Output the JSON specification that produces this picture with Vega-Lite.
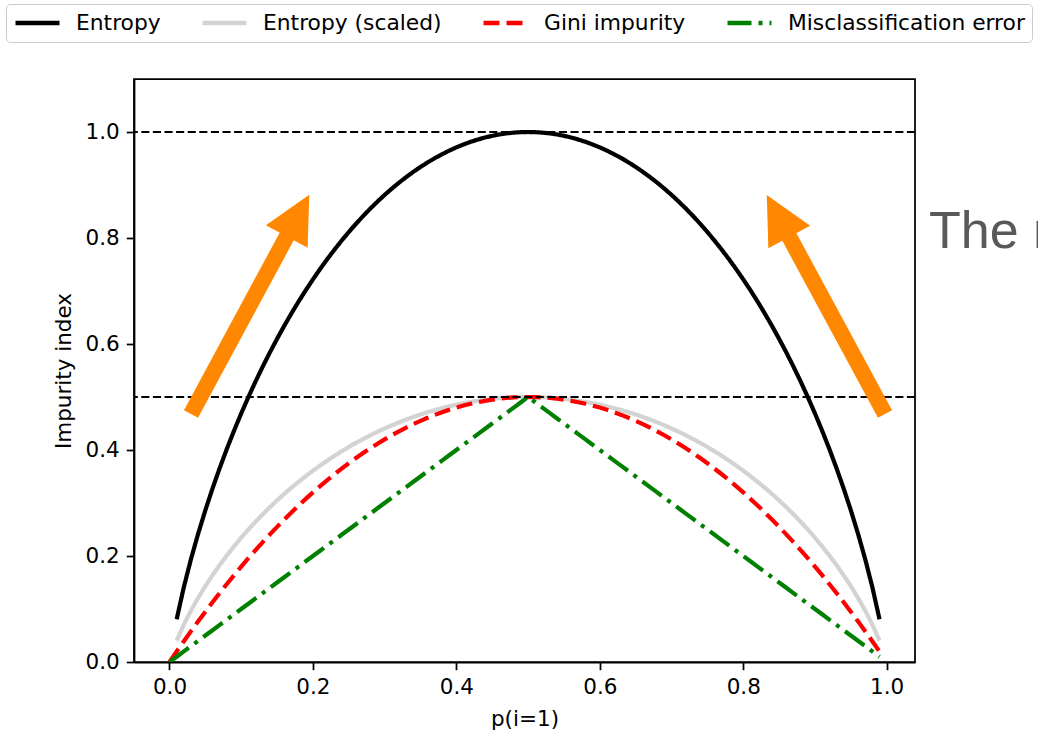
{
  "$schema": "https://vega.github.io/schema/vega-lite/v6.json",
  "width": 781,
  "height": 583,
  "autosize": {"type": "none"},
  "padding": {"left": 134, "top": 79, "right": 123, "bottom": 73},
  "background": "white",
  "config": {
    "view": {"stroke": "black", "strokeWidth": 1.75},
    "axis": {
      "domainColor": "black", "domainWidth": 1.75,
      "tickColor": "black", "tickWidth": 1.75, "tickSize": 7.7,
      "labelPadding": 7, "labelFont": "DejaVu Sans", "labelFontSize": 21.5, "labelColor": "black",
      "titleFont": "DejaVu Sans", "titleFontSize": 21.5, "titleFontWeight": "normal", "titleColor": "black",
      "grid": false, "titlePadding": 10
    },
    "legend": {
      "orient": "none", "legendX": -128, "legendY": -75, "direction": "horizontal",
      "symbolType": "stroke", "symbolSize": 1936, "symbolStrokeWidth": 4.4,
      "labelFont": "DejaVu Sans", "labelFontSize": 21.8, "labelColor": "black", "labelLimit": 500,
      "labelOffset": 14, "columnPadding": 39, "padding": 7, "clipHeight": 24,
      "fillColor": "white", "strokeColor": "#cccccc", "cornerRadius": 4
    }
  },
  "datasets": {
    "curves": [
      {"p":0.01,"e":0.0808,"es":0.0404,"g":0.0198,"m":0.01},
      {"p":0.02,"e":0.1414,"es":0.0707,"g":0.0392,"m":0.02},
      {"p":0.03,"e":0.1944,"es":0.0972,"g":0.0582,"m":0.03},
      {"p":0.04,"e":0.2423,"es":0.1211,"g":0.0768,"m":0.04},
      {"p":0.05,"e":0.2864,"es":0.1432,"g":0.095,"m":0.05},
      {"p":0.06,"e":0.3274,"es":0.1637,"g":0.1128,"m":0.06},
      {"p":0.07,"e":0.3659,"es":0.1830,"g":0.1302,"m":0.07},
      {"p":0.08,"e":0.4022,"es":0.2011,"g":0.1472,"m":0.08},
      {"p":0.09,"e":0.4365,"es":0.2182,"g":0.1638,"m":0.09},
      {"p":0.10,"e":0.4690,"es":0.2345,"g":0.18,"m":0.10},
      {"p":0.11,"e":0.4999,"es":0.2500,"g":0.1958,"m":0.11},
      {"p":0.12,"e":0.5294,"es":0.2647,"g":0.2112,"m":0.12},
      {"p":0.13,"e":0.5574,"es":0.2787,"g":0.2262,"m":0.13},
      {"p":0.14,"e":0.5842,"es":0.2921,"g":0.2408,"m":0.14},
      {"p":0.15,"e":0.6098,"es":0.3049,"g":0.255,"m":0.15},
      {"p":0.16,"e":0.6343,"es":0.3172,"g":0.2688,"m":0.16},
      {"p":0.17,"e":0.6577,"es":0.3289,"g":0.2822,"m":0.17},
      {"p":0.18,"e":0.6801,"es":0.3400,"g":0.2952,"m":0.18},
      {"p":0.19,"e":0.7015,"es":0.3507,"g":0.3078,"m":0.19},
      {"p":0.20,"e":0.7219,"es":0.3610,"g":0.32,"m":0.20},
      {"p":0.21,"e":0.7415,"es":0.3707,"g":0.3318,"m":0.21},
      {"p":0.22,"e":0.7602,"es":0.3801,"g":0.3432,"m":0.22},
      {"p":0.23,"e":0.7780,"es":0.3890,"g":0.3542,"m":0.23},
      {"p":0.24,"e":0.7950,"es":0.3975,"g":0.3648,"m":0.24},
      {"p":0.25,"e":0.8113,"es":0.4056,"g":0.375,"m":0.25},
      {"p":0.26,"e":0.8267,"es":0.4134,"g":0.3848,"m":0.26},
      {"p":0.27,"e":0.8415,"es":0.4207,"g":0.3942,"m":0.27},
      {"p":0.28,"e":0.8555,"es":0.4277,"g":0.4032,"m":0.28},
      {"p":0.29,"e":0.8687,"es":0.4344,"g":0.4118,"m":0.29},
      {"p":0.30,"e":0.8813,"es":0.4406,"g":0.42,"m":0.30},
      {"p":0.31,"e":0.8932,"es":0.4466,"g":0.4278,"m":0.31},
      {"p":0.32,"e":0.9044,"es":0.4522,"g":0.4352,"m":0.32},
      {"p":0.33,"e":0.9149,"es":0.4575,"g":0.4422,"m":0.33},
      {"p":0.34,"e":0.9248,"es":0.4624,"g":0.4488,"m":0.34},
      {"p":0.35,"e":0.9341,"es":0.4670,"g":0.455,"m":0.35},
      {"p":0.36,"e":0.9427,"es":0.4713,"g":0.4608,"m":0.36},
      {"p":0.37,"e":0.9507,"es":0.4753,"g":0.4662,"m":0.37},
      {"p":0.38,"e":0.9580,"es":0.4790,"g":0.4712,"m":0.38},
      {"p":0.39,"e":0.9648,"es":0.4824,"g":0.4758,"m":0.39},
      {"p":0.40,"e":0.9710,"es":0.4855,"g":0.48,"m":0.40},
      {"p":0.41,"e":0.9765,"es":0.4883,"g":0.4838,"m":0.41},
      {"p":0.42,"e":0.9815,"es":0.4907,"g":0.4872,"m":0.42},
      {"p":0.43,"e":0.9858,"es":0.4929,"g":0.4902,"m":0.43},
      {"p":0.44,"e":0.9896,"es":0.4948,"g":0.4928,"m":0.44},
      {"p":0.45,"e":0.9928,"es":0.4964,"g":0.495,"m":0.45},
      {"p":0.46,"e":0.9954,"es":0.4977,"g":0.4968,"m":0.46},
      {"p":0.47,"e":0.9974,"es":0.4987,"g":0.4982,"m":0.47},
      {"p":0.48,"e":0.9988,"es":0.4994,"g":0.4992,"m":0.48},
      {"p":0.49,"e":0.9997,"es":0.4999,"g":0.4998,"m":0.49},
      {"p":0.50,"e":1.0,"es":0.5,"g":0.5,"m":0.5},
      {"p":0.51,"e":0.9997,"es":0.4999,"g":0.4998,"m":0.49},
      {"p":0.52,"e":0.9988,"es":0.4994,"g":0.4992,"m":0.48},
      {"p":0.53,"e":0.9974,"es":0.4987,"g":0.4982,"m":0.47},
      {"p":0.54,"e":0.9954,"es":0.4977,"g":0.4968,"m":0.46},
      {"p":0.55,"e":0.9928,"es":0.4964,"g":0.495,"m":0.45},
      {"p":0.56,"e":0.9896,"es":0.4948,"g":0.4928,"m":0.44},
      {"p":0.57,"e":0.9858,"es":0.4929,"g":0.4902,"m":0.43},
      {"p":0.58,"e":0.9815,"es":0.4907,"g":0.4872,"m":0.42},
      {"p":0.59,"e":0.9765,"es":0.4883,"g":0.4838,"m":0.41},
      {"p":0.60,"e":0.9710,"es":0.4855,"g":0.48,"m":0.40},
      {"p":0.61,"e":0.9648,"es":0.4824,"g":0.4758,"m":0.39},
      {"p":0.62,"e":0.9580,"es":0.4790,"g":0.4712,"m":0.38},
      {"p":0.63,"e":0.9507,"es":0.4753,"g":0.4662,"m":0.37},
      {"p":0.64,"e":0.9427,"es":0.4713,"g":0.4608,"m":0.36},
      {"p":0.65,"e":0.9341,"es":0.4670,"g":0.455,"m":0.35},
      {"p":0.66,"e":0.9248,"es":0.4624,"g":0.4488,"m":0.34},
      {"p":0.67,"e":0.9149,"es":0.4575,"g":0.4422,"m":0.33},
      {"p":0.68,"e":0.9044,"es":0.4522,"g":0.4352,"m":0.32},
      {"p":0.69,"e":0.8932,"es":0.4466,"g":0.4278,"m":0.31},
      {"p":0.70,"e":0.8813,"es":0.4406,"g":0.42,"m":0.30},
      {"p":0.71,"e":0.8687,"es":0.4344,"g":0.4118,"m":0.29},
      {"p":0.72,"e":0.8555,"es":0.4277,"g":0.4032,"m":0.28},
      {"p":0.73,"e":0.8415,"es":0.4207,"g":0.3942,"m":0.27},
      {"p":0.74,"e":0.8267,"es":0.4134,"g":0.3848,"m":0.26},
      {"p":0.75,"e":0.8113,"es":0.4056,"g":0.375,"m":0.25},
      {"p":0.76,"e":0.7950,"es":0.3975,"g":0.3648,"m":0.24},
      {"p":0.77,"e":0.7780,"es":0.3890,"g":0.3542,"m":0.23},
      {"p":0.78,"e":0.7602,"es":0.3801,"g":0.3432,"m":0.22},
      {"p":0.79,"e":0.7415,"es":0.3707,"g":0.3318,"m":0.21},
      {"p":0.80,"e":0.7219,"es":0.3610,"g":0.32,"m":0.20},
      {"p":0.81,"e":0.7015,"es":0.3507,"g":0.3078,"m":0.19},
      {"p":0.82,"e":0.6801,"es":0.3400,"g":0.2952,"m":0.18},
      {"p":0.83,"e":0.6577,"es":0.3289,"g":0.2822,"m":0.17},
      {"p":0.84,"e":0.6343,"es":0.3172,"g":0.2688,"m":0.16},
      {"p":0.85,"e":0.6098,"es":0.3049,"g":0.255,"m":0.15},
      {"p":0.86,"e":0.5842,"es":0.2921,"g":0.2408,"m":0.14},
      {"p":0.87,"e":0.5574,"es":0.2787,"g":0.2262,"m":0.13},
      {"p":0.88,"e":0.5294,"es":0.2647,"g":0.2112,"m":0.12},
      {"p":0.89,"e":0.4999,"es":0.2500,"g":0.1958,"m":0.11},
      {"p":0.90,"e":0.4690,"es":0.2345,"g":0.18,"m":0.10},
      {"p":0.91,"e":0.4365,"es":0.2182,"g":0.1638,"m":0.09},
      {"p":0.92,"e":0.4022,"es":0.2011,"g":0.1472,"m":0.08},
      {"p":0.93,"e":0.3659,"es":0.1830,"g":0.1302,"m":0.07},
      {"p":0.94,"e":0.3274,"es":0.1637,"g":0.1128,"m":0.06},
      {"p":0.95,"e":0.2864,"es":0.1432,"g":0.095,"m":0.05},
      {"p":0.96,"e":0.2423,"es":0.1211,"g":0.0768,"m":0.04},
      {"p":0.97,"e":0.1944,"es":0.0972,"g":0.0582,"m":0.03},
      {"p":0.98,"e":0.1414,"es":0.0707,"g":0.0392,"m":0.02},
      {"p":0.99,"e":0.0808,"es":0.0404,"g":0.0198,"m":0.01},
      {"p":0.00,"g":0.0,"m":0.0}
    ],
    "hlines": [{"h": 0.5}, {"h": 1.0}],
    "arrows": [
      {"x": 0.0300, "y": 0.4679, "x2": 0.1792, "y2": 0.8424, "a": 28.3},
      {"x": 0.9977, "y": 0.4679, "x2": 0.8485, "y2": 0.8415, "a": 331.7}
    ],
    "note": [{"x": 1.059, "y": 0.781, "label": "The r"}]
  },
  "layer": [
    {
      "data": {"name": "curves"},
      "transform": [{"fold": ["e", "es", "g", "m"], "as": ["series", "v"]}],
      "mark": {"type": "line", "strokeWidth": 4.2, "clip": true},
      "encoding": {
        "x": {"field": "p", "type": "quantitative", "title": "p(i=1)",
              "scale": {"domain": [-0.0495, 1.0395], "nice": false, "zero": false},
              "axis": {"values": [0, 0.2, 0.4, 0.6, 0.8, 1.0], "format": ".1f", "labelFlush": false}},
        "y": {"field": "v", "type": "quantitative", "title": "Impurity index",
              "scale": {"domain": [0, 1.1], "nice": false, "zero": false},
              "axis": {"values": [0, 0.2, 0.4, 0.6, 0.8, 1.0], "format": ".1f", "labelFlush": false}},
        "color": {"field": "series", "type": "nominal",
                  "scale": {"domain": ["e", "es", "g", "m"], "range": ["black", "lightgray", "red", "green"]},
                  "legend": {"title": null, "labelExpr": "datum.value === 'e' ? 'Entropy' : datum.value === 'es' ? 'Entropy (scaled)' : datum.value === 'g' ? 'Gini impurity' : 'Misclassification error'"}},
        "strokeDash": {"field": "series", "type": "nominal",
                  "scale": {"domain": ["e", "es", "g", "m"], "range": [[1, 0], [1, 0], [16, 7], [24, 7, 4, 7]]},
                  "legend": {"title": null, "labelExpr": "datum.value === 'e' ? 'Entropy' : datum.value === 'es' ? 'Entropy (scaled)' : datum.value === 'g' ? 'Gini impurity' : 'Misclassification error'"}}
      }
    },
    {
      "data": {"name": "hlines"},
      "mark": {"type": "rule", "color": "black", "strokeWidth": 2, "strokeDash": [8.1, 3.5]},
      "encoding": {
        "y": {"field": "h", "type": "quantitative", "scale": {"domain": [0, 1.1], "nice": false, "zero": false}}
      }
    },
    {
      "data": {"name": "arrows"},
      "mark": {"type": "rule", "color": "#ff8800", "strokeWidth": 16},
      "encoding": {
        "x": {"field": "x", "type": "quantitative", "scale": {"domain": [-0.0495, 1.0395], "nice": false, "zero": false}},
        "y": {"field": "y", "type": "quantitative", "scale": {"domain": [0, 1.1], "nice": false, "zero": false}},
        "x2": {"field": "x2"},
        "y2": {"field": "y2"}
      }
    },
    {
      "data": {"name": "arrows"},
      "mark": {"type": "point", "shape": "M0,-1L1,1L-1,1Z", "filled": true, "size": 2250, "color": "#ff8800", "opacity": 1, "strokeWidth": 0},
      "encoding": {
        "x": {"field": "x2", "type": "quantitative", "scale": {"domain": [-0.0495, 1.0395], "nice": false, "zero": false}},
        "y": {"field": "y2", "type": "quantitative", "scale": {"domain": [0, 1.1], "nice": false, "zero": false}},
        "angle": {"field": "a", "type": "quantitative", "scale": null}
      }
    },
    {
      "data": {"name": "note"},
      "mark": {"type": "text", "font": "Liberation Sans", "fontSize": 52, "color": "#595959", "align": "left", "baseline": "alphabetic"},
      "encoding": {
        "x": {"field": "x", "type": "quantitative", "scale": {"domain": [-0.0495, 1.0395], "nice": false, "zero": false}},
        "y": {"field": "y", "type": "quantitative", "scale": {"domain": [0, 1.1], "nice": false, "zero": false}},
        "text": {"field": "label"}
      }
    }
  ]
}
